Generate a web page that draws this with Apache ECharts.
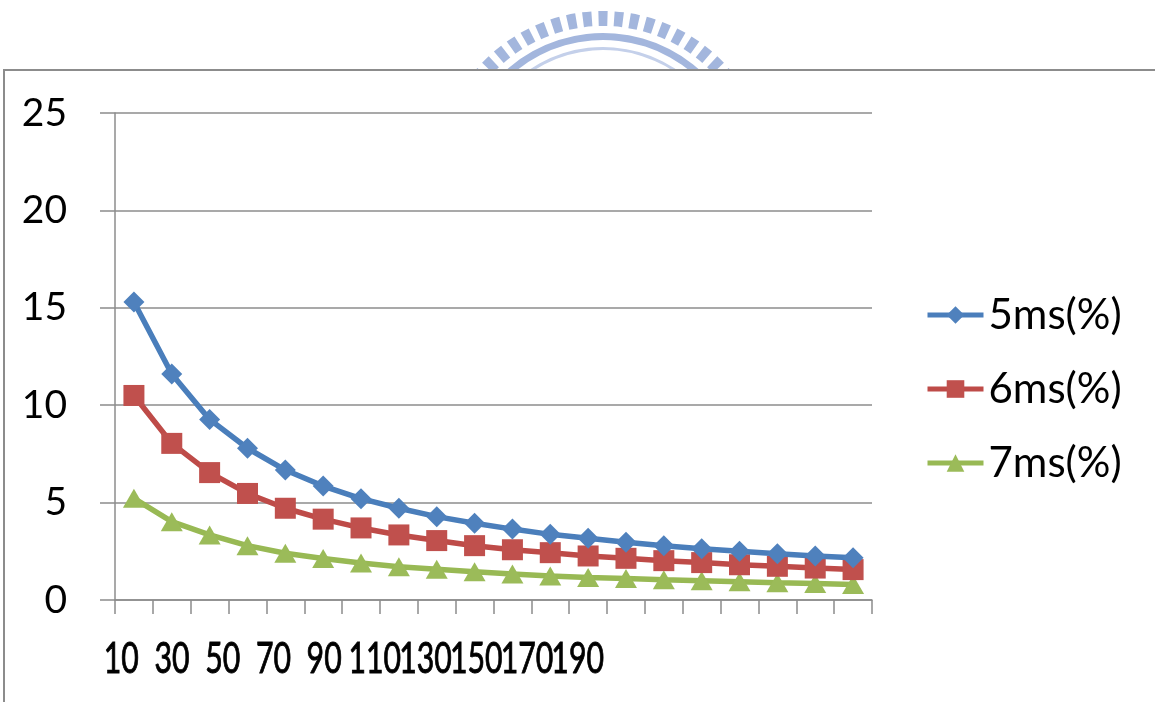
<!DOCTYPE html>
<html>
<head>
<meta charset="utf-8">
<script src="https://cdn.jsdelivr.net/npm/echarts@6/dist/echarts.min.js"></script>
<style>
  html, body { margin: 0; padding: 0; background: #ffffff; }
  #chart { width: 1155px; height: 702px; }
</style>
</head>
<body>
<div id="chart"></div>
<script>
// Packet size categories along the x axis
const categories = ['10', '20', '30', '40', '50', '60', '70', '80', '90', '100',
  '110', '120', '130', '140', '150', '160', '170', '180', '190', '200'];

// Percentages per deadline
const series5ms = [15.3, 11.6, 9.27, 7.79, 6.67, 5.85, 5.2, 4.71, 4.28, 3.94,
  3.64, 3.37, 3.17, 2.96, 2.79, 2.63, 2.5, 2.38, 2.26, 2.17];
const series6ms = [10.5, 8.04, 6.54, 5.47, 4.71, 4.15, 3.7, 3.34, 3.05, 2.79,
  2.58, 2.43, 2.26, 2.14, 2.02, 1.92, 1.81, 1.73, 1.64, 1.56];
const series7ms = [5.22, 4.02, 3.34, 2.79, 2.4, 2.13, 1.9, 1.71, 1.58, 1.45,
  1.33, 1.23, 1.16, 1.1, 1.04, 0.99, 0.94, 0.89, 0.85, 0.8];

const seriesNames = ['5ms(%)', '6ms(%)', '7ms(%)'];

// Every other category gets a label on the bottom axis
const xTickLabels = categories.filter((c, i) => i % 2 === 0);

const AXIS_GRAY = '#8c8c8c';

// Decorative emblem behind the chart frame: a fan of short radial bars plus arcs
function emblemElements() {
  const cx = 603, cy = 178, color = '#a3b6dd';
  const els = [];
  const step = 5.6 * Math.PI / 180;
  const half = 1.6 * Math.PI / 180;
  for (let k = -9; k <= 9; k++) {
    const a = -Math.PI / 2 + k * step;
    els.push({
      id: 'bar' + k,
      type: 'sector',
      shape: { cx: cx, cy: cy, r0: 152, r: 167, startAngle: a - half, endAngle: a + half },
      style: { fill: color }
    });
  }
  els.push({
    id: 'ring',
    type: 'sector',
    shape: { cx: cx, cy: cy, r0: 138, r: 145, startAngle: -Math.PI / 2 - 0.9, endAngle: -Math.PI / 2 + 0.9 },
    style: { fill: color }
  });
  els.push({
    id: 'ringInner',
    type: 'sector',
    shape: { cx: cx, cy: cy, r0: 128, r: 131, startAngle: -Math.PI / 2 - 0.9, endAngle: -Math.PI / 2 + 0.9 },
    style: { fill: '#c4d0ea' }
  });
  // chart frame covering the lower part of the emblem
  els.push({
    id: 'frame',
    type: 'rect',
    shape: { x: 4, y: 70, width: 1200, height: 700 },
    style: { fill: '#ffffff', stroke: AXIS_GRAY, lineWidth: 2 }
  });
  return els;
}

const chart = echarts.init(document.getElementById('chart'), null, { renderer: 'canvas' });

const lineColors = ['#4a7ebb', '#be4b48', '#98b954'];
const markColors = ['#4f81bd', '#c0504d', '#9bbb59'];
const symbols = ['diamond', 'rect', 'triangle'];
const symbolSizes = [[21, 21], [21, 21], [22, 19]];
const values = [series5ms, series6ms, series7ms];

chart.setOption({
  animation: false,
  backgroundColor: '#ffffff',
  graphic: { z: -10, elements: emblemElements() },
  grid: [
    { left: 115, right: 283, top: 113, bottom: 102, outerBoundsMode: 'none', containLabel: false },
    // band that spaces the bottom tick labels
    { left: 96, right: 552, top: 113, bottom: 102, outerBoundsMode: 'none', containLabel: false }
  ],
  legend: {
    orient: 'vertical',
    left: 925,
    top: 294,
    padding: 0,
    itemWidth: 56,
    itemHeight: 22,
    itemGap: 32,
    lineStyle: { width: 5 },
    textStyle: { fontFamily: 'Lato', fontSize: 42, color: '#000000', lineHeight: 42 },
    data: seriesNames
  },
  xAxis: [
    {
      type: 'category',
      gridIndex: 0,
      data: categories,
      boundaryGap: true,
      axisLine: { show: true, lineStyle: { color: AXIS_GRAY, width: 1.5 } },
      axisTick: { show: true, interval: 0, length: 14, lineStyle: { color: AXIS_GRAY, width: 1.5 } },
      axisLabel: { show: false },
      splitLine: { show: false }
    },
    {
      type: 'category',
      gridIndex: 1,
      data: xTickLabels,
      boundaryGap: true,
      axisLine: { show: false },
      axisTick: { show: false },
      splitLine: { show: false },
      axisLabel: { show: false }
    }
  ],
  yAxis: [
    {
      type: 'value',
      gridIndex: 0,
      min: 0,
      max: 25,
      interval: 5,
      axisLine: { show: true, lineStyle: { color: AXIS_GRAY, width: 1.5 } },
      axisTick: { show: true, length: 15, lineStyle: { color: AXIS_GRAY, width: 1.5 } },
      splitLine: { show: true, lineStyle: { color: AXIS_GRAY, width: 1.5 } },
      axisLabel: { margin: 48, fontFamily: 'Lato', fontSize: 39, color: '#000000' }
    },
    { type: 'value', gridIndex: 1, show: false, min: 0, max: 25 }
  ],
  series: seriesNames.map((name, i) => ({
    name: name,
    type: 'line',
    xAxisIndex: 0,
    yAxisIndex: 0,
    data: values[i],
    symbol: symbols[i],
    symbolSize: symbolSizes[i],
    showSymbol: true,
    showAllSymbol: true,
    lineStyle: { color: lineColors[i], width: 5.5 },
    itemStyle: { color: markColors[i], borderColor: markColors[i], borderWidth: 0 },
    z: 3 + (2 - i)
  }))
});

// Bottom tick labels: narrow-set text placed at the label axis positions
const tickTexts = xTickLabels.map((lab, i) => {
  const pt = chart.convertToPixel({ xAxisIndex: 1, yAxisIndex: 1 }, [lab, 0]);
  return {
    id: 'xlab' + i,
    type: 'text',
    x: pt[0],
    y: pt[1] + 59,
    scaleX: 0.72,
    z: 10,
    style: {
      text: lab,
      font: '42px Lato',
      fill: '#000000',
      stroke: '#000000',
      lineWidth: 0.9,
      align: 'center',
      verticalAlign: 'middle'
    }
  };
});
chart.setOption({ graphic: { elements: emblemElements().concat(tickTexts) } });
</script>
</body>
</html>
